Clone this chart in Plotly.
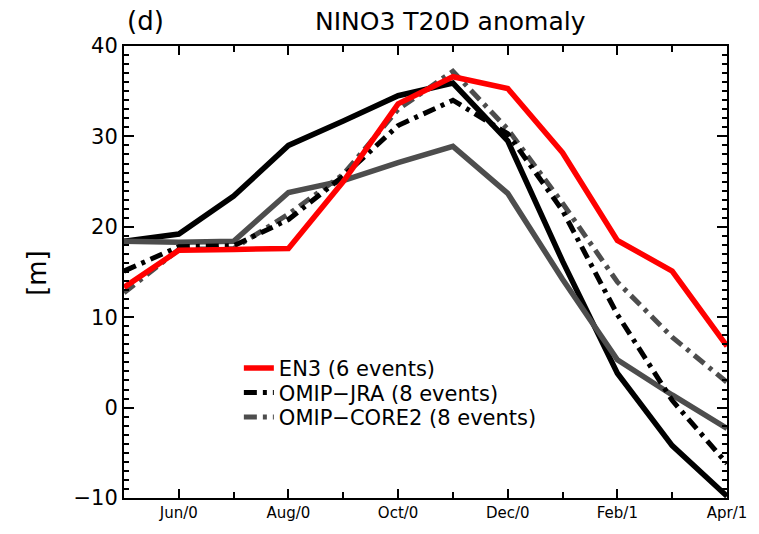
import plotly.graph_objects as go

months = ["May/0", "Jun/0", "Jul/0", "Aug/0", "Sep/0", "Oct/0", "Nov/0", "Dec/0", "Jan/1", "Feb/1", "Mar/1", "Apr/1"]
tick_labels = ["Jun/0", "Aug/0", "Oct/0", "Dec/0", "Feb/1", "Apr/1"]
tick_positions = [1, 3, 5, 7, 9, 11]

en3 = [13.3, 17.4, 17.5, 17.6, 25.0, 33.6, 36.6, 35.3, 28.2, 18.5, 15.1, 6.8]
omip_jra = [15.1, 17.8, 17.9, 20.8, 25.6, 31.2, 34.0, 30.3, 21.8, 10.3, 0.8, -6.2]
omip_core2 = [12.7, 17.5, 17.6, 21.4, 25.8, 33.0, 37.2, 30.8, 22.6, 13.9, 7.8, 2.8]
jra_solid = [18.4, 19.2, 23.4, 29.0, 31.7, 34.5, 35.9, 29.5, 16.2, 3.8, -4.2, -9.8]
core2_solid = [18.4, 18.3, 18.4, 23.8, 25.1, 27.1, 28.9, 23.7, 14.2, 5.3, 1.4, -2.3]

x = list(range(len(months)))
GRAY = "#4d4d4d"
DASHDOT = "13px,6px,4px,6px"

fig = go.Figure()
fig.add_trace(go.Scatter(x=x, y=jra_solid, mode="lines", line=dict(color="black", width=5.5),
                         showlegend=False, hoverinfo="skip"))
fig.add_trace(go.Scatter(x=x, y=core2_solid, mode="lines", line=dict(color=GRAY, width=5.5),
                         showlegend=False, hoverinfo="skip"))
fig.add_trace(go.Scatter(x=x, y=omip_core2, mode="lines", name="OMIP\u2212CORE2 (8 events)",
                         line=dict(color=GRAY, width=5, dash=DASHDOT), legend="legend3"))
fig.add_trace(go.Scatter(x=x, y=omip_jra, mode="lines", name="OMIP\u2212JRA (8 events)",
                         line=dict(color="black", width=5, dash=DASHDOT), legend="legend2"))
fig.add_trace(go.Scatter(x=x, y=en3, mode="lines", name="EN3 (6 events)",
                         line=dict(color="#ff0000", width=5.5), legend="legend"))

FONT = "DejaVu Sans"
W, H = 759, 534
L, R, T, B = 124, 26, 46, 28
pw, ph = W - L - R, H - T - B


def px(xp):
    return (xp - L) / pw


def py(yp):
    return (H - B - yp) / ph


def legend_at(ypix):
    return dict(x=px(240), y=py(ypix), xanchor="left", yanchor="middle",
                bgcolor="rgba(0,0,0,0)", borderwidth=0,
                font=dict(size=21, family=FONT), itemwidth=30)


fig.update_layout(
    width=W, height=H,
    margin=dict(l=L, r=R, t=T, b=B),
    paper_bgcolor="white", plot_bgcolor="white",
    font=dict(family=FONT, color="black"),
    showlegend=True,
    legend=legend_at(374),
    legend2=legend_at(399),
    legend3=legend_at(424),
)

fig.add_annotation(text="NINO3 T20D anomaly", x=px(454), y=py(21), xref="paper", yref="paper",
                   showarrow=False, font=dict(size=25, family=FONT), xanchor="center", yanchor="middle")
fig.add_annotation(text="(d)", x=px(146), y=py(21), xref="paper", yref="paper",
                   showarrow=False, font=dict(size=26, family=FONT), xanchor="center", yanchor="middle")
fig.add_annotation(text="[m]", x=px(36), y=py(277), xref="paper", yref="paper", textangle=-90,
                   showarrow=False, font=dict(size=26, family=FONT), xanchor="center", yanchor="middle")

fig.update_xaxes(
    range=[0, 11], tickmode="array", tickvals=tick_positions, ticktext=tick_labels,
    ticks="inside", ticklen=9, tickwidth=2, tickcolor="black",
    showline=True, linecolor="black", linewidth=2, mirror="ticks",
    showgrid=False, zeroline=False,
    tickfont=dict(size=15, family=FONT),
    minor=dict(dtick=1, ticks="inside", ticklen=6, tickwidth=2, tickcolor="black", showgrid=False),
)
fig.update_yaxes(
    range=[-10, 40], tickmode="linear", tick0=0, dtick=10,
    ticks="inside", ticklen=10, tickwidth=2, tickcolor="black",
    showline=True, linecolor="black", linewidth=2, mirror="ticks",
    showgrid=False, zeroline=False,
    tickfont=dict(size=21, family=FONT),
    minor=dict(dtick=1, ticks="inside", ticklen=5, tickwidth=1.5, tickcolor="black", showgrid=False),
)

fig.write_html("out.html")
